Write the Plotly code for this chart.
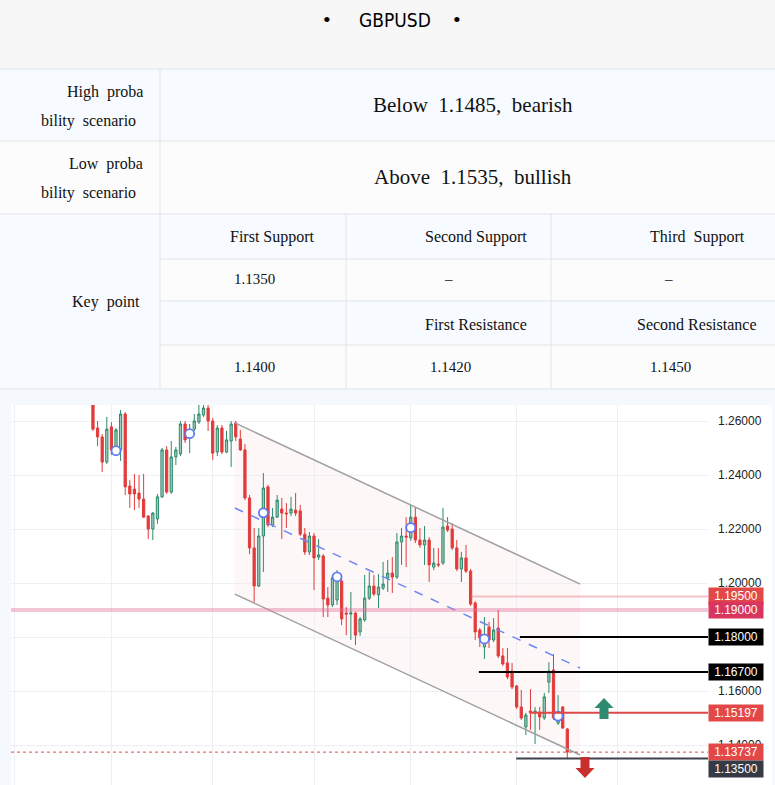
import plotly.graph_objects as go

# ---------------- data ----------------
title_text = "GBPUSD"
scenario_labels = [["High\u00a0\u00a0proba", "bility\u00a0\u00a0scenario"],
                   ["Low\u00a0\u00a0proba", "bility\u00a0\u00a0scenario"]]
scenario_texts = ["Below\u00a0\u00a01.1485,\u00a0\u00a0bearish",
                  "Above\u00a0\u00a01.1535,\u00a0\u00a0bullish"]
key_label = "Key\u00a0\u00a0point"
support_headers = ["First Support", "Second Support", "Third\u00a0\u00a0Support"]
support_values = ["1.1350", "\u2013", "\u2013"]
resistance_headers = ["", "First Resistance", "Second Resistance"]
resistance_values = ["1.1400", "1.1420", "1.1450"]

opens = [1.2678, 1.2574, 1.2541, 1.2448, 1.2578, 1.2500, 1.2493, 1.2626, 1.2359, 1.2348,
         1.2333, 1.2311, 1.2248, 1.2200, 1.2237, 1.2319, 1.2493, 1.2337, 1.2467, 1.2478,
         1.2589, 1.2541, 1.2570, 1.2596, 1.2622, 1.2648, 1.2600, 1.2485, 1.2574, 1.2485,
         1.2526, 1.2593, 1.2533, 1.2493, 1.2315, 1.2130, 1.1989, 1.2174, 1.2356, 1.2215,
         1.2244, 1.2274, 1.2259, 1.2259, 1.2270, 1.2267, 1.2181, 1.2115, 1.2174, 1.2096,
         1.2100, 1.1944, 1.1919, 1.1937, 1.2007, 1.1889, 1.1885, 1.1889, 1.1819, 1.1863,
         1.1944, 1.1989, 1.1956, 1.1981, 1.2019, 1.2037, 1.2022, 1.2152, 1.2174, 1.2167,
         1.2244, 1.2159, 1.2141, 1.2159, 1.2059, 1.2070, 1.2074, 1.2211, 1.2200, 1.2130,
         1.2052, 1.2093, 1.2044, 1.1926, 1.1826, 1.1763, 1.1837, 1.1789, 1.1833, 1.1730,
         1.1704, 1.1674, 1.1619, 1.1541, 1.1467, 1.1526, 1.1519, 1.1522, 1.1500, 1.1633,
         1.1678, 1.1481, 1.1541, 1.1459]
highs = [1.2693, 1.2600, 1.2552, 1.2615, 1.2596, 1.2574, 1.2641, 1.2633, 1.2381, 1.2404,
         1.2400, 1.2404, 1.2252, 1.2263, 1.2330, 1.2500, 1.2507, 1.2526, 1.2504, 1.2600,
         1.2600, 1.2589, 1.2626, 1.2663, 1.2663, 1.2659, 1.2611, 1.2585, 1.2585, 1.2563,
         1.2600, 1.2600, 1.2567, 1.2515, 1.2326, 1.2204, 1.2204, 1.2407, 1.2363, 1.2278,
         1.2326, 1.2315, 1.2296, 1.2319, 1.2333, 1.2289, 1.2204, 1.2189, 1.2185, 1.2163,
         1.2107, 1.1985, 1.2030, 1.2048, 1.2019, 1.1911, 1.1967, 1.1893, 1.1874, 1.2030,
         1.2041, 1.2030, 1.2033, 1.2078, 1.2085, 1.2096, 1.2185, 1.2204, 1.2244, 1.2289,
         1.2278, 1.2204, 1.2211, 1.2170, 1.2130, 1.2130, 1.2278, 1.2244, 1.2222, 1.2159,
         1.2115, 1.2141, 1.2052, 1.1933, 1.1833, 1.1874, 1.1856, 1.1870, 1.1900, 1.1759,
         1.1759, 1.1704, 1.1622, 1.1604, 1.1519, 1.1607, 1.1541, 1.1541, 1.1593, 1.1707,
         1.1737, 1.1585, 1.1544, 1.1463]
lows = [1.2563, 1.2507, 1.2411, 1.2441, 1.2474, 1.2485, 1.2452, 1.2326, 1.2278, 1.2270,
        1.2278, 1.2241, 1.2163, 1.2159, 1.2219, 1.2315, 1.2330, 1.2330, 1.2437, 1.2470,
        1.2519, 1.2481, 1.2563, 1.2589, 1.2615, 1.2563, 1.2456, 1.2470, 1.2478, 1.2481,
        1.2430, 1.2526, 1.2489, 1.2307, 1.2107, 1.1930, 1.1985, 1.2041, 1.2207, 1.2207,
        1.2241, 1.2163, 1.2204, 1.2248, 1.2248, 1.2174, 1.2104, 1.2104, 1.1974, 1.2085,
        1.1874, 1.1874, 1.1911, 1.1919, 1.1844, 1.1807, 1.1789, 1.1770, 1.1804, 1.1856,
        1.1937, 1.1952, 1.1907, 1.1974, 1.1967, 1.1963, 1.2015, 1.2067, 1.2059, 1.2156,
        1.2148, 1.2130, 1.2067, 1.2004, 1.2048, 1.2059, 1.2067, 1.2189, 1.2122, 1.2044,
        1.2004, 1.2037, 1.1915, 1.1789, 1.1763, 1.1719, 1.1759, 1.1781, 1.1722, 1.1693,
        1.1644, 1.1607, 1.1533, 1.1493, 1.1437, 1.1456, 1.1404, 1.1456, 1.1493, 1.1593,
        1.1493, 1.1474, 1.1459, 1.1348]
closes = [1.2570, 1.2541, 1.2448, 1.2570, 1.2493, 1.2567, 1.2626, 1.2356, 1.2330, 1.2330,
          1.2311, 1.2244, 1.2200, 1.2259, 1.2319, 1.2493, 1.2337, 1.2467, 1.2493, 1.2589,
          1.2530, 1.2567, 1.2600, 1.2626, 1.2648, 1.2600, 1.2481, 1.2574, 1.2485, 1.2530,
          1.2589, 1.2541, 1.2493, 1.2315, 1.2130, 1.1989, 1.2174, 1.2352, 1.2215, 1.2244,
          1.2307, 1.2259, 1.2256, 1.2274, 1.2259, 1.2181, 1.2115, 1.2174, 1.2093, 1.2104,
          1.1941, 1.1919, 1.2019, 1.2011, 1.1867, 1.1885, 1.1889, 1.1807, 1.1867, 1.1944,
          1.1989, 1.1959, 1.1985, 1.1996, 1.2037, 1.2022, 1.2152, 1.2174, 1.2170, 1.2244,
          1.2159, 1.2141, 1.2159, 1.2067, 1.2074, 1.2067, 1.2207, 1.2196, 1.2130, 1.2052,
          1.2093, 1.2044, 1.1922, 1.1819, 1.1796, 1.1807, 1.1789, 1.1826, 1.1730, 1.1700,
          1.1652, 1.1615, 1.1541, 1.1500, 1.1511, 1.1519, 1.1526, 1.1504, 1.1578, 1.1674,
          1.1500, 1.1519, 1.1463, 1.13737]

marker_idx = [5, 21, 37, 53, 69, 85, 101]
marker_price = [1.2490, 1.2553, 1.2260, 1.2023, 1.2205, 1.1793, 1.1507]

channel_idx = [30.8, 105.8]
channel_upper = [1.2593, 1.1996]
channel_lower = [1.1959, 1.1363]
channel_mid = [1.2278, 1.1685]

level_prices = [1.195, 1.19, 1.18, 1.167, 1.15197, 1.13737, 1.135]
level_start_idx = [82.1, -17.8, 92.7, 83.8, 94.9, -17.8, 91.9]

ytick_vals = [1.14, 1.16, 1.18, 1.20, 1.22, 1.24, 1.26]
ytick_text = ["1.14000", "1.16000", "", "1.20000", "1.22000", "1.24000", "1.26000"]
grid_idx = [-17, 4, 26, 48, 69, 92, 114]

up_arrow = (110.97, 1.15741)     # tip
down_arrow = (106.84, 1.12778)   # tip

# ---------------- layout helpers ----------------
W, H = 775, 785
X_MIN, X_MAX = -17.8, 133.55
Y_MIN, Y_MAX = 1.12519, 1.26593
PX_IDX = 4.605      # px per candle index
PX_PRICE = 2700.0   # px per price unit


def px(x):
    return x / W


def py(y):
    return 1 - y / H


SERIF = "Liberation Serif"
SANS = "Liberation Sans"

fig = go.Figure()

fig.add_trace(go.Candlestick(
    x=list(range(len(opens))), open=opens, high=highs, low=lows, close=closes,
    increasing=dict(line=dict(color="#2b8a6b", width=1), fillcolor="rgba(43,138,107,0.45)"),
    decreasing=dict(line=dict(color="#e23b3b", width=1), fillcolor="#e23b3b"),
    whiskerwidth=0, showlegend=False, hoverinfo="skip"))

fig.add_trace(go.Scatter(
    x=marker_idx, y=marker_price, mode="markers", showlegend=False, hoverinfo="skip",
    marker=dict(symbol="circle", size=9, color="white", line=dict(color="#5b7cf5", width=1.8))))

shapes = []
ann = []

# white chart card
shapes.append(dict(type="rect", xref="paper", yref="paper", x0=px(11), x1=px(772),
                   y0=0, y1=py(405), fillcolor="white", line=dict(width=0), layer="below"))

# ---- table ----
shapes.append(dict(type="rect", xref="paper", yref="paper", x0=0, x1=1, y0=py(69), y1=1,
                   fillcolor="#f7f7f7", line=dict(width=0), layer="below"))
row_bands = [(69, 141, "#f7fafe"), (141, 214, "#fcfcfc"), (214, 259, "#f7fafe"),
             (259, 301, "#fcfcfc"), (301, 345, "#f7fafe"), (345, 389, "#fcfcfc")]
for y0, y1, c in row_bands:
    shapes.append(dict(type="rect", xref="paper", yref="paper", x0=0, x1=1, y0=py(y1), y1=py(y0),
                       fillcolor=c, line=dict(width=0), layer="below"))
shapes.append(dict(type="rect", xref="paper", yref="paper", x0=0, x1=px(160), y0=py(389), y1=py(214),
                   fillcolor="#f7fafe", line=dict(width=0), layer="below"))
GL = dict(color="#e2e4e8", width=1)
for yy in [69, 141, 214, 389]:
    shapes.append(dict(type="line", xref="paper", yref="paper", x0=0, x1=1, y0=py(yy), y1=py(yy), line=GL))
for yy in [259, 301, 345]:
    shapes.append(dict(type="line", xref="paper", yref="paper", x0=px(160), x1=1, y0=py(yy), y1=py(yy), line=GL))
shapes.append(dict(type="line", xref="paper", yref="paper", x0=px(160), x1=px(160), y0=py(389), y1=py(69), line=GL))
for xx in [346, 551]:
    shapes.append(dict(type="line", xref="paper", yref="paper", x0=px(xx), x1=px(xx), y0=py(389), y1=py(214), line=GL))


def text(x, y, s, size=16, anchor="center", family=SERIF, color="#111"):
    ann.append(dict(xref="paper", yref="paper", x=px(x), y=py(y), text=s, showarrow=False,
                    xanchor=anchor, yanchor="middle", font=dict(family=family, size=size, color=color)))


text(327, 20, "\u2022", size=22, color="#000")
text(457, 20, "\u2022", size=22, color="#000")
text(395, 20, title_text, size=19, family="Liberation Sans Narrow, DejaVu Sans Condensed, Liberation Sans",
     color="#000")

for k, (l1, l2) in enumerate(scenario_labels):
    base = 69 + 72 * k
    text(145, base + 23, l1, anchor="right")
    text(138, base + 52, l2, anchor="right")
    text(473, base + 36, scenario_texts[k], size=21)

text(106, 302, key_label)
hdr_x = [272, 476, 697]
for k in range(3):
    text(hdr_x[k], 237, support_headers[k])
    if resistance_headers[k]:
        text(hdr_x[k], 324, resistance_headers[k])
text(232, 279, support_values[0], size=15, anchor="left")
text(448, 279, support_values[1], size=15)
text(668, 279, support_values[2], size=15)
val_x = [232, 428, 648]
for k in range(3):
    text(val_x[k], 367, resistance_values[k], size=15, anchor="left")

# ---- chart drawings ----
path = "M {0},{1} L {2},{3} L {2},{4} L {0},{5} Z".format(
    channel_idx[0], channel_upper[0], channel_idx[1], channel_upper[1], channel_lower[1], channel_lower[0])
shapes.append(dict(type="path", xref="x", yref="y", path=path, fillcolor="rgba(240,90,110,0.05)",
                   line=dict(width=0), layer="below"))
for ys in (channel_upper, channel_lower):
    shapes.append(dict(type="line", xref="x", yref="y", x0=channel_idx[0], x1=channel_idx[1],
                       y0=ys[0], y1=ys[1], line=dict(color="#a0a0a0", width=1.5)))
shapes.append(dict(type="line", xref="x", yref="y", x0=channel_idx[0], x1=channel_idx[1],
                   y0=channel_mid[0], y1=channel_mid[1], line=dict(color="#6f88f5", width=1.5, dash="dash")))

level_line_styles = [
    dict(color="rgba(236,120,135,0.45)", width=2),
    dict(color="rgba(228,110,150,0.40)", width=4),
    dict(color="#000000", width=2),
    dict(color="#000000", width=2),
    dict(color="#e04848", width=2),
    dict(color="#e04848", width=1, dash="dot"),
    dict(color="#3d414d", width=2),
]
label_colors = ["#e34848", "#d9365f", "#000000", "#000000", "#e34848", "#e34848", "#363a45"]
label_shift = [1, 0, 0, 0, 0, 0, -10]
for p, x0, st, lc, sh in zip(level_prices, level_start_idx, level_line_styles, label_colors, label_shift):
    shapes.append(dict(type="line", xref="x", yref="y", x0=x0, x1=X_MAX, y0=p, y1=p, line=st))
    ann.append(dict(xref="paper", yref="y", x=px(708), y=p, xanchor="left", yanchor="middle",
                    yshift=sh, text="%.5f" % p, showarrow=False, bgcolor=lc, width=51, height=13,
                    borderpad=1.5, align="center", font=dict(family=SANS, size=12, color="white")))


def arrow_path(tip, up):
    x, yt = tip
    head_h = 10 / PX_PRICE
    total_h = 21 / PX_PRICE
    hw = 9.5 / PX_IDX
    sw = 4.5 / PX_IDX
    s = 1 if up else -1
    yb = yt - s * head_h
    ye = yt - s * total_h
    return ("M {a},{yb} L {x},{yt} L {b},{yb} L {c},{yb} L {c},{ye} L {d},{ye} L {d},{yb} Z"
            .format(a=x - hw, b=x + hw, c=x + sw, d=x - sw, x=x, yt=yt, yb=yb, ye=ye))


shapes.append(dict(type="path", xref="x", yref="y", path=arrow_path(up_arrow, True),
                   fillcolor="#2e8b6f", line=dict(width=0)))
shapes.append(dict(type="path", xref="x", yref="y", path=arrow_path(down_arrow, False),
                   fillcolor="#c8302e", line=dict(width=0)))

fig.update_layout(
    width=W, height=H, margin=dict(l=0, r=0, t=0, b=0),
    paper_bgcolor="#f5f9fe", plot_bgcolor="white",
    shapes=shapes, annotations=ann, showlegend=False,
    xaxis=dict(domain=[px(11), px(708)], range=[X_MIN, X_MAX], tickvals=grid_idx,
               showticklabels=False, showgrid=True, gridcolor="#eeeff2", gridwidth=1,
               zeroline=False, showline=False, ticks="", rangeslider=dict(visible=False),
               fixedrange=True),
    yaxis=dict(domain=[0, py(405)], range=[Y_MIN, Y_MAX], side="right", tickvals=ytick_vals,
               ticktext=ytick_text, showgrid=True, gridcolor="#eeeff2", gridwidth=1,
               zeroline=False, showline=False, ticks="", ticklabelstandoff=9,
               tickfont=dict(family=SANS, size=12, color="#222"), fixedrange=True),
)

fig.write_html("out.html", config={"displayModeBar": False},
               post_script="document.body.style.margin='0';document.body.style.overflow='hidden';")
